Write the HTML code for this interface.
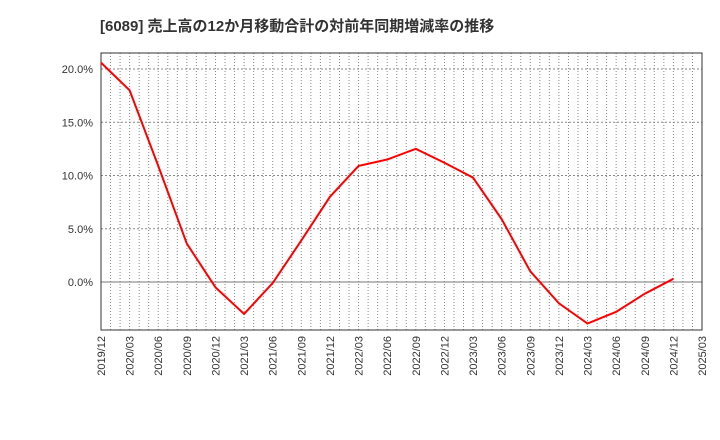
<!DOCTYPE html>
<html><head><meta charset="utf-8"><style>
body{margin:0;background:#fff;}
svg{display:block;font-family:"Liberation Sans","Noto Sans CJK JP",sans-serif;}
</style></head><body>
<svg id="c" width="720" height="440">
<text x="100" y="31" font-size="15" font-weight="bold" fill="#333">[6089]  売上高の12か月移動合計の対前年同期増減率の推移</text>
<g id="grid"></g><g id="axes"></g><g id="series"></g>
</svg>
<script>
const categories=["2019/12","2020/03","2020/06","2020/09","2020/12","2021/03","2021/06","2021/09","2021/12","2022/03","2022/06","2022/09","2022/12","2023/03","2023/06","2023/09","2023/12","2024/03","2024/06","2024/09","2024/12","2025/03"];
const values=[20.6,18.0,10.9,3.6,-0.5,-3.0,-0.1,3.9,8.0,10.9,11.5,12.5,11.2,9.8,5.9,1.0,-2.0,-3.9,-2.8,-1.1,0.3];
const yTicks=[0,5,10,15,20];
const yTickLabels=["0.0%","5.0%","10.0%","15.0%","20.0%"];
const NS="http://www.w3.org/2000/svg";
const L=101,R=702,T=53,B=330;
const x=i=>L+(R-L)*i/(categories.length-1);
const y=v=>282-v*(282-69)/20;
function mk(t,a,p){const e=document.createElementNS(NS,t);for(const k in a)e.setAttribute(k,a[k]);p.appendChild(e);return e;}
const g=document.getElementById('grid'),ax=document.getElementById('axes'),s=document.getElementById('series');
const nMonths=(categories.length-1)*3;
for(let m=1;m<nMonths;m++){const xx=L+(R-L)*m/nMonths;
const l=mk('line',{x1:xx,x2:xx,y1:T,y2:B,stroke:'#888','stroke-dasharray':'1,2','stroke-width':1},g);
}
yTicks.forEach((v,i)=>{const yy=y(v);
const l=mk('line',{x1:L,x2:R,y1:yy,y2:yy,stroke:v===0?'#777':'#888','stroke-dasharray':v===0?'none':'2,2','stroke-width':1},g);

const t=mk('text',{x:L-8,y:yy+4,'text-anchor':'end','font-size':11,fill:'#333'},ax);t.textContent=yTickLabels[i];
});
categories.forEach((c,i)=>{const xx=x(i);
const t=mk('text',{transform:`translate(${xx+4},${B+6}) rotate(-90)`,'text-anchor':'end','font-size':11,fill:'#333'},ax);t.textContent=c;
});
const fr=mk('rect',{x:L,y:T,width:R-L,height:B-T,fill:'none',stroke:'#333','stroke-width':1},ax);

const p=mk('polyline',{points:values.map((v,i)=>x(i)+','+y(v)).join(' '),fill:'none',stroke:'#f00','stroke-width':2},s);

</script>
</body></html>
